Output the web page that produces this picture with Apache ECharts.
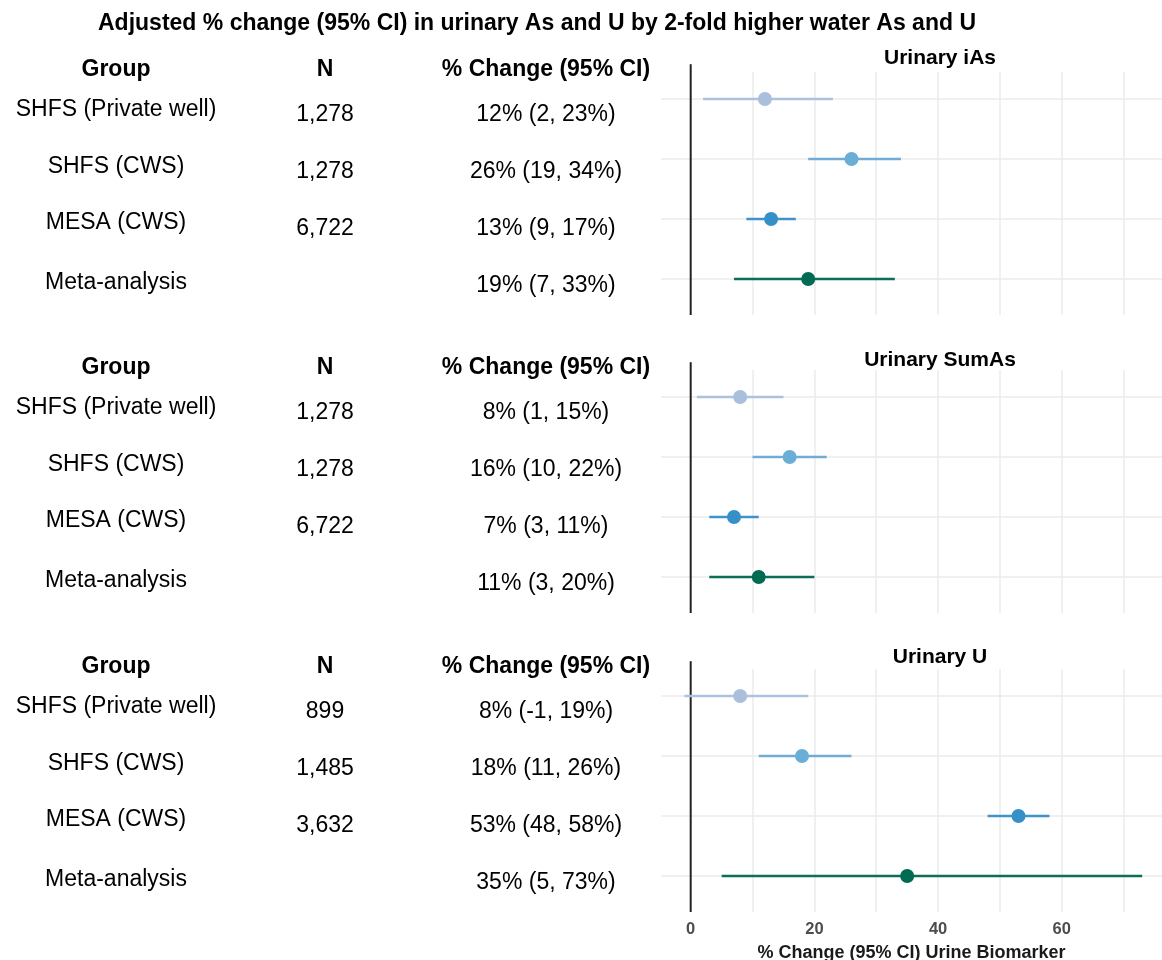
<!DOCTYPE html>
<html>
<head>
<meta charset="utf-8">
<script src="https://cdn.jsdelivr.net/npm/echarts@6/dist/echarts.min.js"></script>
<style>
  html, body { margin: 0; padding: 0; background: #fff; }
  #chart { width: 1162px; height: 960px; }
</style>
</head>
<body>
<div id="chart"></div>
<script>
// ---------------- DATA ----------------
const mainTitle = 'Adjusted % change (95% CI) in urinary As and U by 2-fold higher water As and U';
const headers = ['Group', 'N', '% Change (95% CI)'];
const groups = ['SHFS (Private well)', 'SHFS (CWS)', 'MESA (CWS)', 'Meta-analysis'];
const panelTitles = ['Urinary iAs', 'Urinary SumAs', 'Urinary U'];

const nIAs = ['1,278', '1,278', '6,722', ''];
const estIAs = [12, 26, 13, 19];
const loIAs = [2, 19, 9, 7];
const hiIAs = [23, 34, 17, 33];

const nSumAs = ['1,278', '1,278', '6,722', ''];
const estSumAs = [8, 16, 7, 11];
const loSumAs = [1, 10, 3, 3];
const hiSumAs = [15, 22, 11, 20];

const nU = ['899', '1,485', '3,632', ''];
const estU = [8, 18, 53, 35];
const loU = [-1, 11, 48, 5];
const hiU = [19, 26, 58, 73];

const xTicks = [0, 20, 40, 60];
const xGridValues = [10, 20, 30, 40, 50, 60, 70];
const xAxisTitle = '% Change (95% CI) Urine Biomarker';

// ---------------- STYLE / LAYOUT ----------------
const FONT = '"Liberation Sans", Arial, Helvetica, sans-serif';
const pointColors = ['#a9bfdc', '#6aaed6', '#3690c8', '#006b52'];
const lineColors = ['#adc2de', '#72acd6', '#3f93c9', '#0a6f56'];
const panels = [
  { n: nIAs, est: estIAs, lo: loIAs, hi: hiIAs },
  { n: nSumAs, est: estSumAs, lo: loSumAs, hi: hiSumAs },
  { n: nU, est: estU, lo: loU, hi: hiU }
];
const panelOffset = [0, 298, 597];
const gridTop = [72, 370, 669];
const titleY = [58, 360, 657];
const gridHeight = 243;
const headerY = 70;
const groupRowY = [110, 167, 223, 283];
const valueRowY = [115, 172, 229, 286];
const colX = [116, 325, 546];
const X_MIN = -4.8, X_MAX = 76.2;
const Y_MIN = 0.55, Y_MAX = 4.6;

// ---------------- BUILD ----------------
const grids = [], xAxes = [], yAxes = [], series = [], graphics = [];

graphics.push({
  type: 'text', x: 537, y: 24,
  style: { text: mainTitle, font: 'bold 23px ' + FONT, fill: '#000', align: 'center', verticalAlign: 'middle' }
});

panels.forEach((p, pi) => {
  const off = panelOffset[pi];
  headers.forEach((h, ci) => {
    graphics.push({
      type: 'text', x: colX[ci], y: headerY + off,
      style: { text: h, font: 'bold 23px ' + FONT, fill: '#000', align: 'center', verticalAlign: 'middle' }
    });
  });
  groups.forEach((g, ri) => {
    graphics.push({
      type: 'text', x: colX[0], y: groupRowY[ri] + off,
      style: { text: g, font: '23px ' + FONT, fill: '#000', align: 'center', verticalAlign: 'middle' }
    });
    if (p.n[ri]) {
      graphics.push({
        type: 'text', x: colX[1], y: valueRowY[ri] + off,
        style: { text: p.n[ri], font: '23px ' + FONT, fill: '#000', align: 'center', verticalAlign: 'middle' }
      });
    }
    graphics.push({
      type: 'text', x: colX[2], y: valueRowY[ri] + off,
      style: { text: p.est[ri] + '% (' + p.lo[ri] + ', ' + p.hi[ri] + '%)', font: '23px ' + FONT, fill: '#000', align: 'center', verticalAlign: 'middle' }
    });
  });
  graphics.push({
    type: 'text', x: 940, y: titleY[pi],
    style: { text: panelTitles[pi], font: 'bold 21px ' + FONT, fill: '#000', align: 'center', verticalAlign: 'middle' }
  });

  grids.push({ left: 661, right: 0, top: gridTop[pi], height: gridHeight, outerBoundsMode: 'none', containLabel: false });
  const isLast = pi === panels.length - 1;
  xAxes.push({
    gridIndex: pi, type: 'value', min: X_MIN, max: X_MAX,
    axisLine: { show: false }, axisTick: { show: false }, splitLine: { show: false },
    axisLabel: isLast ? {
      show: true, customValues: xTicks, margin: 9,
      color: '#4d4d4d', fontFamily: FONT, fontWeight: 'bold', fontSize: 16.5
    } : { show: false },
    name: isLast ? xAxisTitle : '',
    nameLocation: 'middle', nameGap: 32,
    nameTextStyle: { color: '#1a1a1a', fontFamily: FONT, fontWeight: 'bold', fontSize: 18 }
  });
  yAxes.push({
    gridIndex: pi, type: 'value', inverse: true, min: Y_MIN, max: Y_MAX, show: false,
    splitLine: { show: false }
  });

  // gridlines
  const gridLineData = xGridValues.map(v => ({ xAxis: v }))
    .concat(groups.map((g, ri) => ({ yAxis: ri + 1 })));
  series.push({
    type: 'scatter', xAxisIndex: pi, yAxisIndex: pi, data: [], silent: true, z: 0,
    markLine: {
      z: 0, silent: true, symbol: ['none', 'none'], label: { show: false },
      lineStyle: { color: '#ebebeb', width: 1.5, type: 'solid', opacity: 1 },
      emphasis: { disabled: true },
      data: gridLineData, animation: false
    }
  });

  // zero reference line
  series.push({
    type: 'line', xAxisIndex: pi, yAxisIndex: pi, clip: false, silent: true, z: 3,
    symbol: 'none', lineStyle: { color: '#222', width: 2 },
    data: [[0, 0.42], [0, Y_MAX]]
  });

  // CI lines
  series.push({
    type: 'custom', xAxisIndex: pi, yAxisIndex: pi, z: 8, silent: true,
    data: groups.map((g, ri) => [p.lo[ri], p.hi[ri], ri + 1, ri]),
    renderItem: (params, api) => {
      const a = api.coord([api.value(0), api.value(2)]);
      const b = api.coord([api.value(1), api.value(2)]);
      const ci = api.value(3);
      return {
        type: 'line',
        shape: { x1: a[0], y1: a[1], x2: b[0], y2: b[1] },
        style: { stroke: lineColors[ci], lineWidth: 2.4 }
      };
    }
  });

  // points
  series.push({
    type: 'scatter', xAxisIndex: pi, yAxisIndex: pi, z: 10, symbolSize: 14,
    data: groups.map((g, ri) => ({ value: [p.est[ri], ri + 1], itemStyle: { color: pointColors[ri], opacity: 1 } }))
  });
});

const chart = echarts.init(document.getElementById('chart'), null, { renderer: 'canvas' });
chart.setOption({
  backgroundColor: '#fff',
  animation: false,
  grid: grids,
  xAxis: xAxes,
  yAxis: yAxes,
  series: series,
  graphic: graphics
});
</script>
</body>
</html>
